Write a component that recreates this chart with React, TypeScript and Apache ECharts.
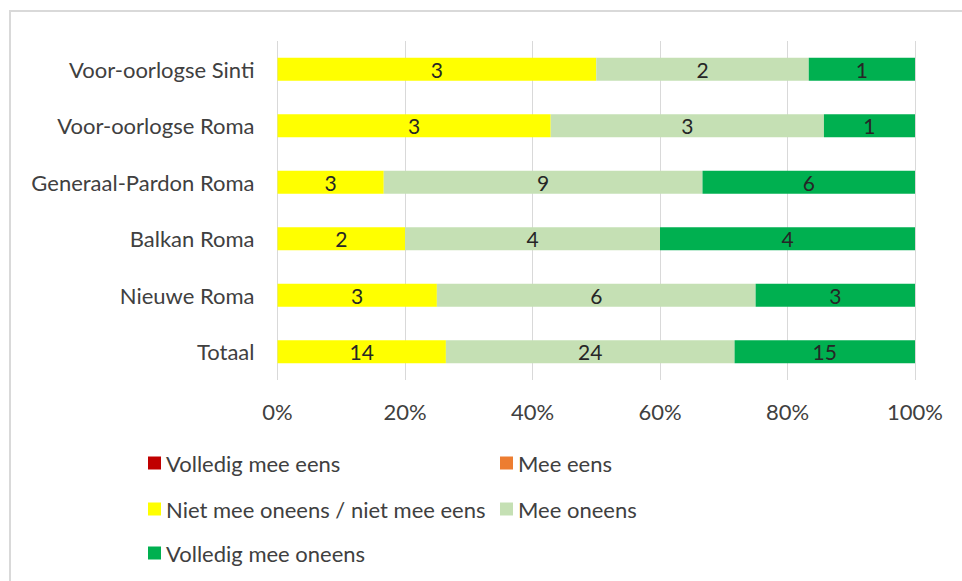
import React, { useEffect, useRef } from "react";
import * as echarts from "echarts";

const categories = [
  "Voor-oorlogse Sinti",
  "Voor-oorlogse Roma",
  "Generaal-Pardon Roma",
  "Balkan Roma",
  "Nieuwe Roma",
  "Totaal",
];
const seriesNames = [
  "Volledig mee eens",
  "Mee eens",
  "Niet mee oneens / niet mee eens",
  "Mee oneens",
  "Volledig mee oneens",
];
const volledigMeeEens = [0, 0, 0, 0, 0, 0];
const meeEens = [0, 0, 0, 0, 0, 0];
const neutraal = [3, 3, 3, 2, 3, 14];
const meeOneens = [2, 3, 9, 4, 6, 24];
const volledigMeeOneens = [1, 1, 6, 4, 3, 15];
const colors = ["#C00000", "#ED7D31", "#FFFF00", "#C5E0B4", "#00B050"];
const xTicks = [0, 20, 40, 60, 80, 100];

const FONT = "Lato";
const TXT = "#404040";
const FS = 22;

export default function App() {
  const ref = useRef<HTMLDivElement>(null);
  useEffect(() => {
    if (!ref.current) return;
    const chart = echarts.init(ref.current, undefined, { renderer: "svg" });
    const all = [volledigMeeEens, meeEens, neutraal, meeOneens, volledigMeeOneens];
    const totals = categories.map((_, i) => all.reduce((s, a) => s + a[i], 0));
    const series = all.map((arr, si) => ({
      name: seriesNames[si],
      type: "bar",
      stack: "total",
      barWidth: "41%",
      itemStyle: { color: colors[si] },
      label: {
        show: true,
        position: "inside",
        color: "#262626",
        fontFamily: FONT,
        fontSize: 21,
        formatter: (p: any) => (p.data.count ? String(p.data.count) : ""),
      },
      data: arr.map((v, i) => ({ value: (v / totals[i]) * 100, count: v })),
    }));
    const legendPos = [
      { left: 148, top: 452 },
      { left: 500, top: 452 },
      { left: 148, top: 498 },
      { left: 500, top: 498 },
      { left: 148, top: 542 },
    ];
    chart.setOption({
      animation: false,
      graphic: [
        {
          type: "rect",
          shape: { x: 10, y: 11, width: 1000, height: 700 },
          style: { fill: "none", stroke: "#d9d9d9", lineWidth: 2 },
          silent: true,
        },
      ],
      grid: { left: 277.5, right: 47, top: 41, bottom: 201, containLabel: false },
      xAxis: {
        type: "value",
        min: 0,
        max: 100,
        interval: 20,
        axisLine: { show: false },
        axisTick: { show: false },
        splitLine: { lineStyle: { color: "#d9d9d9", width: 1 } },
        axisLabel: {
          margin: 20,
          color: TXT,
          fontFamily: FONT,
          fontSize: FS,
          formatter: (v: number) => (xTicks.includes(v) ? v + "%" : ""),
        },
      },
      yAxis: {
        type: "category",
        inverse: true,
        data: categories,
        axisLine: { show: false },
        axisTick: { show: false },
        axisLabel: { margin: 23, color: TXT, fontFamily: FONT, fontSize: FS },
      },
      legend: seriesNames.map((n, i) => ({
        data: [n],
        left: legendPos[i].left,
        top: legendPos[i].top,
        orient: "horizontal",
        itemWidth: 13,
        itemHeight: 13,
        itemGap: 0,
        padding: 0,
        icon: "rect",
        textStyle: { color: TXT, fontFamily: FONT, fontSize: FS, padding: [0, 0, 0, 0] },
        selectedMode: false,
      })),
      series,
    });
    return () => chart.dispose();
  }, []);
  return <div ref={ref} style={{ width: 962, height: 581, position: "absolute", left: 0, top: 0 }} />;
}
